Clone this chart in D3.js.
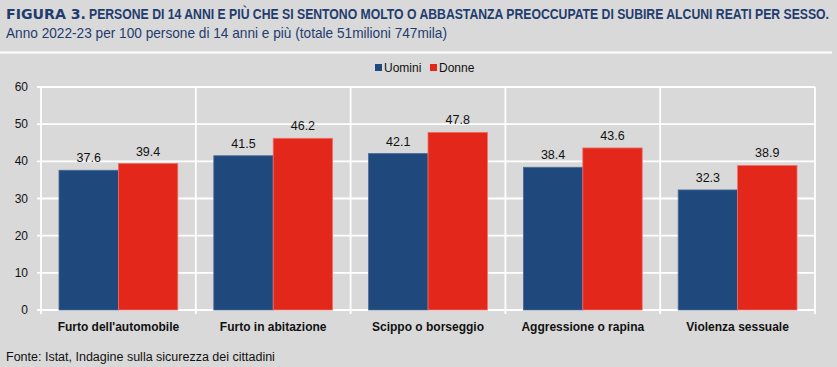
<!DOCTYPE html>
<html>
<head>
<meta charset="utf-8">
<script src="https://cdn.jsdelivr.net/npm/d3@7"></script>
<style>
  body { margin: 0; background: #d9d9d9; }
  svg { display: block; }
</style>
</head>
<body>
<div id="chart"></div>
<script>
// data
var categories = ["Furto dell'automobile", "Furto in abitazione", "Scippo o borseggio", "Aggressione o rapina", "Violenza sessuale"];
var series = ["Uomini", "Donne"];
var uomini = [37.6, 41.5, 42.1, 38.4, 32.3];
var donne = [39.4, 46.2, 47.8, 43.6, 38.9];
var yTicks = [0, 10, 20, 30, 40, 50, 60];

var colors = { "Uomini": "#1f497d", "Donne": "#e3271b" };
var strokes = { "Uomini": "#4a6a96", "Donne": "#ee7068" };
var font = "'Liberation Sans', Arial, sans-serif";
var narrow = "'Liberation Sans Narrow', 'Arial Narrow', 'Liberation Sans', Arial, sans-serif";

var svg = d3.select("#chart")
  .append("svg")
  .attr("width", 837)
  .attr("height", 367);

svg.append("rect").attr("width", 837).attr("height", 367).attr("fill", "#d9d9d9");

// title
svg.append("text")
  .attr("x", 6).attr("y", 19)
  .attr("font-family", "'DejaVu Sans', sans-serif")
  .attr("font-weight", 900)
  .attr("font-size", 14)
  .attr("fill", "#1f3c6e")
  .attr("textLength", 80).attr("lengthAdjust", "spacingAndGlyphs")
  .text("FIGURA 3.");
svg.append("text")
  .attr("x", 89).attr("y", 19)
  .attr("font-family", narrow)
  .attr("font-weight", "bold")
  .attr("font-size", 14.5)
  .attr("fill", "#1f3c6e")
  .attr("textLength", 740).attr("lengthAdjust", "spacingAndGlyphs")
  .text("PERSONE DI 14 ANNI E PIÙ CHE SI SENTONO MOLTO O ABBASTANZA PREOCCUPATE DI SUBIRE ALCUNI REATI PER SESSO.");
svg.append("text")
  .attr("x", 6).attr("y", 38)
  .attr("font-family", narrow)
  .attr("font-size", 14.5)
  .attr("fill", "#1f3c6e")
  .attr("textLength", 441).attr("lengthAdjust", "spacingAndGlyphs")
  .text("Anno 2022-23 per 100 persone di 14 anni e più (totale 51milioni 747mila)");

svg.append("line")
  .attr("x1", 0).attr("x2", 832).attr("y1", 52.5).attr("y2", 52.5)
  .attr("stroke", "#fff").attr("stroke-width", 2);

// legend
var legendX = [375, 430];
series.forEach(function(s, i) {
  svg.append("rect")
    .attr("x", legendX[i]).attr("y", 64)
    .attr("width", 7).attr("height", 7)
    .attr("fill", colors[s]);
  svg.append("text")
    .attr("x", legendX[i] + 9).attr("y", 72)
    .attr("font-family", font).attr("font-size", 12)
    .attr("fill", "#111")
    .text(s);
});

var plotLeft = 41, plotRight = 815, plotTop = 87, plotBottom = 310;

var x = d3.scaleBand().domain(categories).range([plotLeft, plotRight]).padding(0);
var inner = d3.scaleBand().domain(series)
  .range([18, x.bandwidth() - 18]).padding(0);
var y = d3.scaleLinear().domain([0, 60]).range([plotBottom, plotTop]);

// gridlines
svg.append("g").selectAll("line")
  .data(yTicks)
  .enter().append("line")
  .attr("x1", plotLeft - 4).attr("x2", plotRight)
  .attr("y1", function(d) { return y(d); })
  .attr("y2", function(d) { return y(d); })
  .attr("stroke", "#fff").attr("stroke-width", 1.8);

var bounds = categories.map(function(c) { return x(c); }).concat([plotRight]);
svg.append("g").selectAll("line")
  .data(bounds)
  .enter().append("line")
  .attr("x1", function(d) { return d; })
  .attr("x2", function(d) { return d; })
  .attr("y1", plotTop).attr("y2", plotBottom + 4)
  .attr("stroke", "#fff").attr("stroke-width", 1.8);

// y tick labels
svg.append("g").selectAll("text")
  .data(yTicks)
  .enter().append("text")
  .attr("x", 28)
  .attr("y", function(d) { return y(d) + 4; })
  .attr("text-anchor", "end")
  .attr("font-family", font).attr("font-size", 12)
  .attr("fill", "#111")
  .text(function(d) { return d; });

// bars
var rows = categories.map(function(c, i) {
  return { cat: c, values: [{ s: "Uomini", v: uomini[i] }, { s: "Donne", v: donne[i] }] };
});

var groups = svg.append("g").selectAll("g")
  .data(rows)
  .enter().append("g")
  .attr("transform", function(d) { return "translate(" + x(d.cat) + ",0)"; });

groups.selectAll("rect")
  .data(function(d) { return d.values; })
  .enter().append("rect")
  .attr("x", function(d) { return inner(d.s); })
  .attr("y", function(d) { return y(d.v); })
  .attr("width", inner.bandwidth())
  .attr("height", function(d) { return y(0) - y(d.v); })
  .attr("fill", function(d) { return colors[d.s]; })
  .attr("stroke", function(d) { return strokes[d.s]; })
  .attr("stroke-width", 0.8);

groups.selectAll("text")
  .data(function(d) { return d.values; })
  .enter().append("text")
  .attr("x", function(d) { return inner(d.s) + inner.bandwidth() / 2; })
  .attr("y", function(d) { return y(d.v) - 8; })
  .attr("text-anchor", "middle")
  .attr("font-family", font).attr("font-size", 12.5)
  .attr("fill", "#111")
  .text(function(d) { return d.v.toFixed(1); });

// category labels
svg.append("g").selectAll("text")
  .data(categories)
  .enter().append("text")
  .attr("x", function(d) { return x(d) + x.bandwidth() / 2; })
  .attr("y", 331)
  .attr("text-anchor", "middle")
  .attr("font-family", font).attr("font-size", 12).attr("font-weight", "bold")
  .attr("fill", "#111")
  .text(function(d) { return d; });

// source
svg.append("text")
  .attr("x", 6).attr("y", 361)
  .attr("font-family", font).attr("font-size", 12.5)
  .attr("fill", "#111")
  .text("Fonte: Istat, Indagine sulla sicurezza dei cittadini");
</script>
</body>
</html>
